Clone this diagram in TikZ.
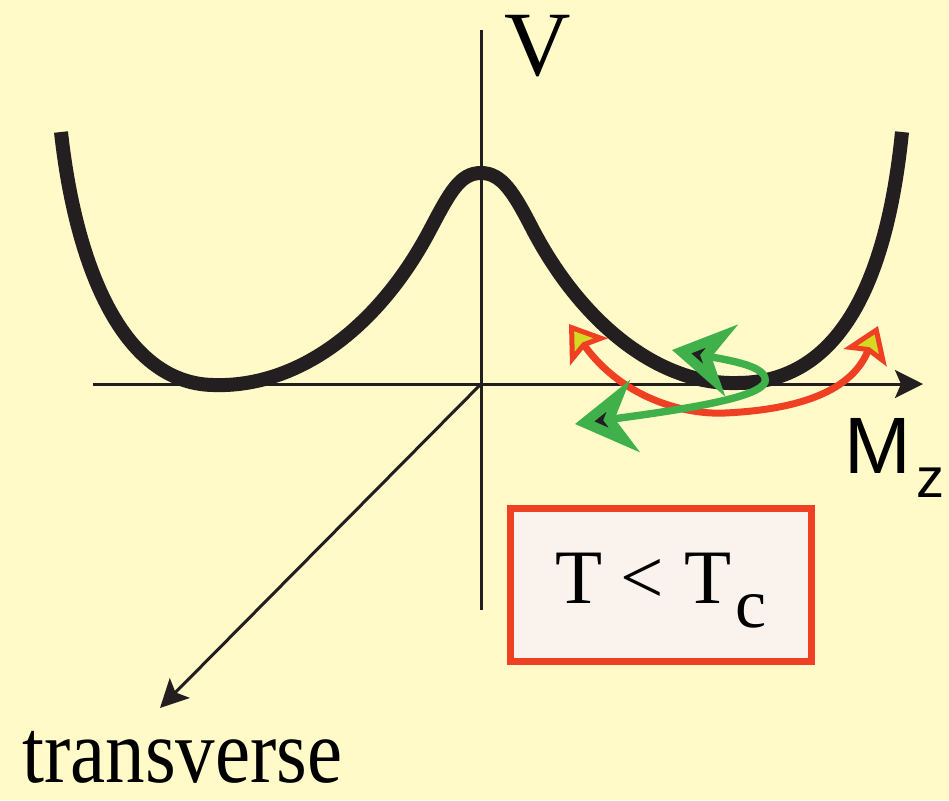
\documentclass[tikz,border=0pt]{standalone}
\usepackage{fontspec}
\setmainfont{Liberation Serif}
\newfontfamily\axisfont{Liberation Sans}
\usetikzlibrary{arrows.meta}
\definecolor{paper}{RGB}{255,250,200}
\definecolor{boxfill}{RGB}{250,242,236}
\definecolor{flip}{RGB}{240,64,36}
\definecolor{wobble}{RGB}{64,176,74}
\definecolor{tipyellow}{RGB}{212,218,34}
\definecolor{ink}{RGB}{35,31,32}

\tikzset{
  axisline/.style={draw=ink,line width=1.5pt},
  axistip/.style={-{Stealth[length=14pt,width=14pt,inset=3pt]}},
  potential/.style={draw=ink,line width=7pt},
  flippath/.style={draw=flip,line width=3.5pt,
    {Stealth[length=17pt,width=23pt,inset=3pt,line width=2.5pt,fill=tipyellow]}-{Stealth[length=17pt,width=23pt,inset=3pt,line width=2.5pt,fill=tipyellow]}},
  wobblepath/.style={draw=wobble,line width=3.7pt,
    {Stealth[length=30pt,width=36pt,inset=10pt,line width=6pt,fill=ink]}-{Stealth[length=30pt,width=36pt,inset=10pt,line width=6pt,fill=ink]}},
  condbox/.style={draw=flip,fill=boxfill,line width=3.5pt,inner sep=0pt,
    minimum width=150.5pt,minimum height=76.5pt,font=\fontsize{38.5}{40}\selectfont,
    text height=25.5pt,text depth=7.5pt}
}

\begin{document}
\begin{tikzpicture}[x=0.5pt,y=-0.5pt]
  \fill[paper] (0,0) rectangle (949,800);
  \useasboundingbox (0,0) rectangle (949,800);
  % axes
  \coordinate (O) at (481,384);
  \coordinate (vtop) at (481,30);
  \coordinate (vbot) at (481,610);
  \coordinate (hleft) at (93,384);
  \coordinate (hright) at (923,384);
  \coordinate (tend) at (160,708);
  \draw[axisline] (vbot) -- (vtop);
  \draw[axisline,axistip] (hleft) -- (hright);
  \draw[axisline,axistip] (O) -- (tend);
  % double well
  \draw[potential] (61,132) .. controls (75,260) and (120,383) .. (213,385)
    .. controls (300,388) and (380,325) .. (430,230)
    .. controls (450,192) and (460,173) .. (481,173)
    .. controls (502,173) and (514,193) .. (533,230)
    .. controls (583,325) and (660,385) .. (737,383)
    .. controls (830,383) and (885,300) .. (902,132);
  % jumps over the barrier and wobbles in the well
  \coordinate (fa) at (569,324);
  \coordinate (fb) at (725,413);
  \coordinate (fc) at (878,326);
  \draw[flippath] (fa) .. controls (620,395) and (680,415) .. (fb)
    .. controls (790,410) and (850,395) .. (fc);
  \coordinate (wa) at (672,350);
  \coordinate (wb) at (765,382);
  \coordinate (wc) at (575,424);
  \draw[wobblepath] (wa) .. controls (740,362) and (768,368) .. (wb)
    .. controls (760,398) and (680,410) .. (wc);
  % labels
  \node[anchor=base,inner sep=0pt,font=\fontsize{46}{48}\selectfont] (Vlbl) at (537.5,75) {V};
  \node[anchor=base west,inner sep=0pt,font=\axisfont\fontsize{40}{42}\selectfont] (Mlbl) at (844,473)
    {M\kern2.5pt\raisebox{-12pt}{\fontsize{28}{30}\selectfont z}};
  \node[anchor=base west,inner sep=0pt,font=\fontsize{39.5}{42}\selectfont] (tlbl) at (22,782)
    {\scalebox{1}[1.15]{transverse}};
  \node[condbox] (cond) at (661,585)
    {T\hspace{9pt}<\hspace{10pt}T\kern2pt\raisebox{-12pt}{\fontsize{35}{36}\selectfont c}\hspace{4pt}};
\end{tikzpicture}
\end{document}
